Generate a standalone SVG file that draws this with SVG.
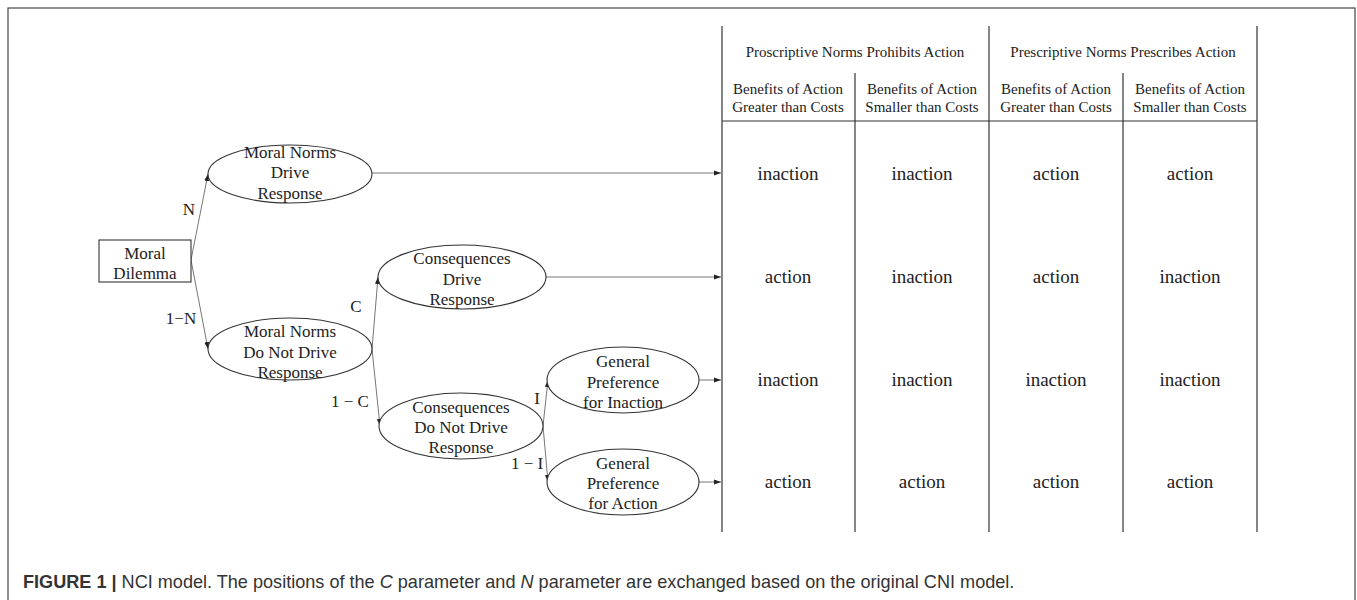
<svg xmlns="http://www.w3.org/2000/svg" width="1357" height="600" viewBox="0 0 1357 600">
<style>
.node{fill:#fff;stroke:#333;stroke-width:1.1}
.t{font-family:"Liberation Serif","Times New Roman",serif;font-size:17px;fill:#222;text-anchor:middle;dominant-baseline:central}
.lbl{font-family:"Liberation Serif","Times New Roman",serif;font-size:17px;fill:#222;text-anchor:middle;dominant-baseline:central}
.hd{font-family:"Liberation Serif","Times New Roman",serif;font-size:15px;fill:#222;text-anchor:middle;dominant-baseline:central}
.cell{font-family:"Liberation Serif","Times New Roman",serif;font-size:19px;fill:#222;text-anchor:middle;dominant-baseline:central}
.edge{stroke:#777;stroke-width:1;fill:none;marker-end:url(#ah)}
.tl{stroke:#333;stroke-width:1.2;fill:none}
.cap{font-family:"Liberation Sans",Arial,sans-serif;font-size:18.1px;fill:#333}
</style>
<defs>
<marker id="ah" viewBox="0 0 10 10" refX="10" refY="5" markerWidth="7" markerHeight="7" markerUnits="userSpaceOnUse" orient="auto">
<path d="M0,1.5 L10,5 L0,8.5 z" fill="#222"/>
</marker>
</defs>
<rect x="8" y="8" width="1347" height="620" fill="none" stroke="#444" stroke-width="1.2"/>

<g id="connectors">
<line class="edge" x1="191" y1="260" x2="208" y2="174"/>
<line class="edge" x1="191" y1="260" x2="208" y2="349"/>
<line class="edge" x1="372" y1="349" x2="378" y2="277"/>
<line class="edge" x1="372" y1="349" x2="380" y2="426"/>
<line class="edge" x1="543" y1="426" x2="548" y2="380"/>
<line class="edge" x1="543" y1="426" x2="548" y2="482"/>
<line class="edge" x1="372" y1="173" x2="721" y2="173"/>
<line class="edge" x1="546" y1="277" x2="721" y2="277"/>
<line class="edge" x1="699" y1="380" x2="721" y2="380"/>
<line class="edge" x1="699" y1="482" x2="721" y2="482"/>
<text class="lbl" x="189" y="209">N</text>
<text class="lbl" x="181" y="318">1−N</text>
<text class="lbl" x="356" y="306">C</text>
<text class="lbl" x="350" y="401">1 − C</text>
<text class="lbl" x="537" y="398">I</text>
<text class="lbl" x="527" y="463">1 − I</text>
</g>

<g id="moral-dilemma">
<rect class="node" x="99" y="240" width="92" height="42"/>
<text class="t" x="145" y="253">Moral</text>
<text class="t" x="145" y="273">Dilemma</text>
</g>

<g id="norms-drive">
<ellipse class="node" cx="290" cy="174" rx="82" ry="29"/>
<text class="t" x="290" y="152">Moral Norms</text>
<text class="t" x="290" y="172">Drive</text>
<text class="t" x="290" y="193">Response</text>
</g>

<g id="norms-not-drive">
<ellipse class="node" cx="290" cy="349" rx="82" ry="31"/>
<text class="t" x="290" y="331">Moral Norms</text>
<text class="t" x="290" y="352">Do Not Drive</text>
<text class="t" x="290" y="372">Response</text>
</g>

<g id="cons-drive">
<ellipse class="node" cx="462" cy="277" rx="84" ry="32"/>
<text class="t" x="462" y="258">Consequences</text>
<text class="t" x="462" y="279">Drive</text>
<text class="t" x="462" y="299">Response</text>
</g>

<g id="cons-not-drive">
<ellipse class="node" cx="461" cy="426" rx="82" ry="33"/>
<text class="t" x="461" y="407">Consequences</text>
<text class="t" x="461" y="427">Do Not Drive</text>
<text class="t" x="461" y="447">Response</text>
</g>

<g id="pref-inaction">
<ellipse class="node" cx="623" cy="380" rx="76" ry="33"/>
<text class="t" x="623" y="361">General</text>
<text class="t" x="623" y="382">Preference</text>
<text class="t" x="623" y="402">for Inaction</text>
</g>

<g id="pref-action">
<ellipse class="node" cx="623" cy="482" rx="76" ry="33"/>
<text class="t" x="623" y="463">General</text>
<text class="t" x="623" y="483">Preference</text>
<text class="t" x="623" y="503">for Action</text>
</g>

<g id="table">
<line class="tl" x1="722" y1="26" x2="722" y2="532"/>
<line class="tl" x1="855" y1="73" x2="855" y2="532"/>
<line class="tl" x1="989" y1="26" x2="989" y2="532"/>
<line class="tl" x1="1123" y1="73" x2="1123" y2="532"/>
<line class="tl" x1="1257" y1="26" x2="1257" y2="532"/>
<line class="tl" x1="722" y1="121" x2="1257" y2="121"/>
<text class="hd" x="855" y="52">Proscriptive Norms Prohibits Action</text>
<text class="hd" x="1123" y="52">Prescriptive Norms Prescribes Action</text>
<text class="hd" x="788" y="89">Benefits of Action</text>
<text class="hd" x="788" y="107">Greater than Costs</text>
<text class="hd" x="922" y="89">Benefits of Action</text>
<text class="hd" x="922" y="107">Smaller than Costs</text>
<text class="hd" x="1056" y="89">Benefits of Action</text>
<text class="hd" x="1056" y="107">Greater than Costs</text>
<text class="hd" x="1190" y="89">Benefits of Action</text>
<text class="hd" x="1190" y="107">Smaller than Costs</text>
<text class="cell" x="788" y="173">inaction</text>
<text class="cell" x="922" y="173">inaction</text>
<text class="cell" x="1056" y="173">action</text>
<text class="cell" x="1190" y="173">action</text>
<text class="cell" x="788" y="276">action</text>
<text class="cell" x="922" y="276">inaction</text>
<text class="cell" x="1056" y="276">action</text>
<text class="cell" x="1190" y="276">inaction</text>
<text class="cell" x="788" y="379">inaction</text>
<text class="cell" x="922" y="379">inaction</text>
<text class="cell" x="1056" y="379">inaction</text>
<text class="cell" x="1190" y="379">inaction</text>
<text class="cell" x="788" y="481">action</text>
<text class="cell" x="922" y="481">action</text>
<text class="cell" x="1056" y="481">action</text>
<text class="cell" x="1190" y="481">action</text>
</g>

<text class="cap" x="23" y="588"><tspan font-weight="bold">FIGURE 1 | </tspan>NCI model. The positions of the <tspan font-style="italic">C</tspan> parameter and <tspan font-style="italic">N</tspan> parameter are exchanged based on the original CNI model.</text>
</svg>
